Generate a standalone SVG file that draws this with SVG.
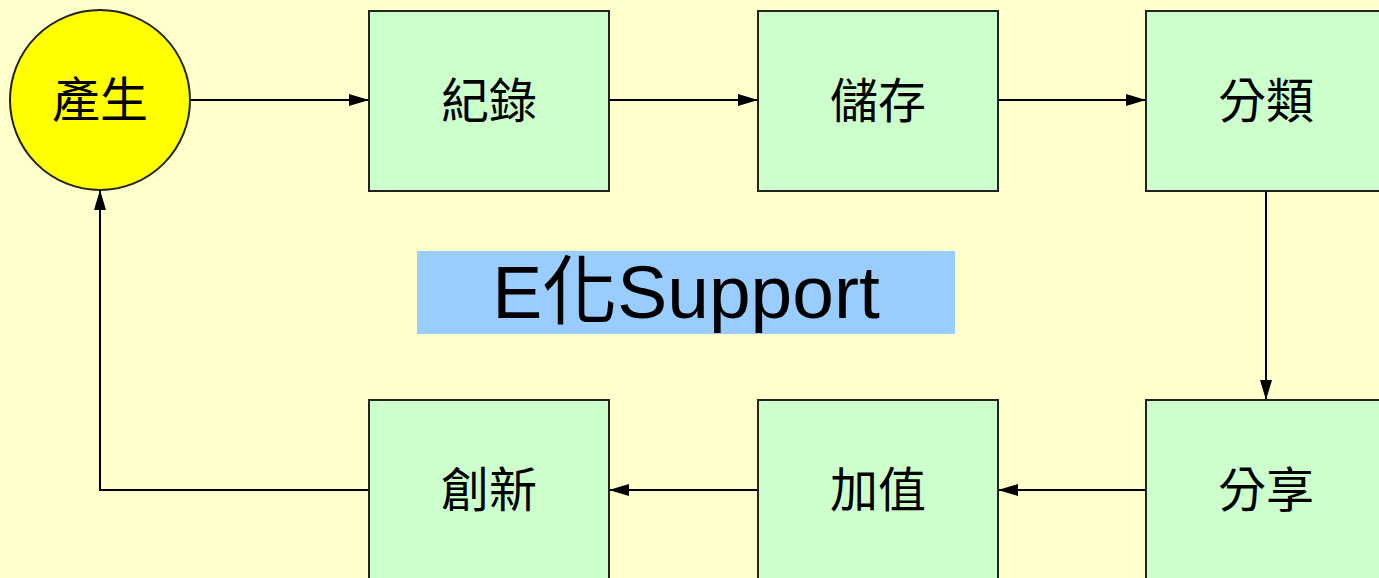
<svg xmlns="http://www.w3.org/2000/svg" width="1379" height="578" viewBox="0 0 1379 578">
<style>
.box{fill:#CCFFCC;stroke:#222;stroke-width:2}
.lbl{font-family:"Liberation Sans","Noto Sans CJK TC",sans-serif;font-size:48px;fill:#000;text-anchor:middle;dominant-baseline:central}
.conn{fill:none;stroke:#000;stroke-width:2}
</style>
<defs>
<marker id="ah" viewBox="0 0 20 12" refX="20" refY="6" markerWidth="20" markerHeight="12" markerUnits="userSpaceOnUse" orient="auto">
<path d="M0,0 L20,6 L0,12 Z" fill="#000"/>
</marker>
</defs>
<rect width="1379" height="578" fill="#FFFFCC"/>
<g id="connectors">
<line class="conn" x1="190" y1="100" x2="369" y2="100" marker-end="url(#ah)"/>
<line class="conn" x1="609" y1="100" x2="758" y2="100" marker-end="url(#ah)"/>
<line class="conn" x1="998" y1="100" x2="1146" y2="100" marker-end="url(#ah)"/>
<line class="conn" x1="1266" y1="191" x2="1266" y2="400" marker-end="url(#ah)"/>
<line class="conn" x1="1146" y1="490" x2="998" y2="490" marker-end="url(#ah)"/>
<line class="conn" x1="758" y1="490" x2="609" y2="490" marker-end="url(#ah)"/>
<polyline class="conn" points="369,490 100,490 100,190" marker-end="url(#ah)"/>
</g>
<g id="n-produce">
<circle cx="100" cy="100" r="90" fill="#FFFF00" stroke="#222" stroke-width="2"/>
<text class="lbl" x="100" y="100">產生</text>
</g>
<g id="n-record">
<rect class="box" x="369" y="11" width="240" height="180"/>
<text class="lbl" x="489" y="101">紀錄</text>
</g>
<g id="n-store">
<rect class="box" x="758" y="11" width="240" height="180"/>
<text class="lbl" x="878" y="101">儲存</text>
</g>
<g id="n-classify">
<rect class="box" x="1146" y="11" width="240" height="180"/>
<text class="lbl" x="1266" y="101">分類</text>
</g>
<g id="n-share">
<rect class="box" x="1146" y="400" width="240" height="180"/>
<text class="lbl" x="1266" y="490">分享</text>
</g>
<g id="n-value">
<rect class="box" x="758" y="400" width="240" height="180"/>
<text class="lbl" x="878" y="490">加值</text>
</g>
<g id="n-innovate">
<rect class="box" x="369" y="400" width="240" height="180"/>
<text class="lbl" x="489" y="490">創新</text>
</g>
<g id="title">
<rect x="417" y="251" width="538" height="83" fill="#99CCFF"/>
<text x="686" y="292" font-family="Liberation Sans,'Noto Sans CJK TC',sans-serif" font-size="75" text-anchor="middle" dominant-baseline="central" fill="#000">E化Support</text>
</g>
</svg>
